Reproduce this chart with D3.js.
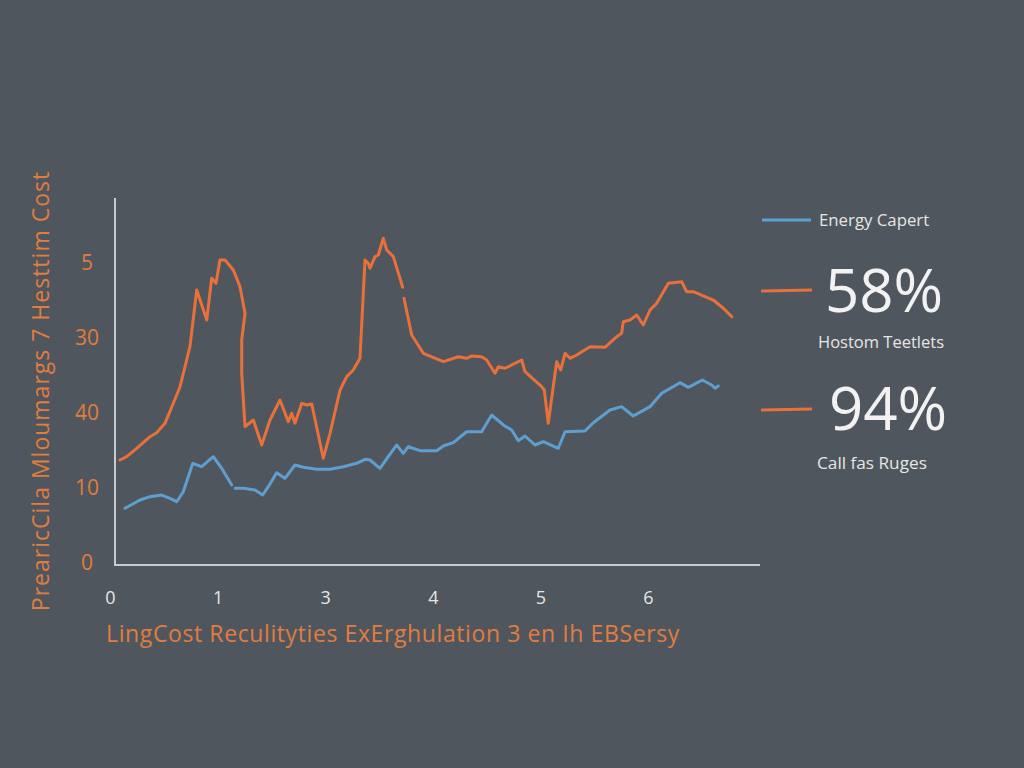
<!DOCTYPE html>
<html><head><meta charset="utf-8">
<script src="https://cdn.jsdelivr.net/npm/d3@7"></script>
<style>
html,body{margin:0;padding:0;background:#50565d;}
svg{display:block;}
text{font-family:"Open Sans","Noto Sans",sans-serif;}
</style></head>
<body><svg id="c" width="1024" height="768"></svg>
<script>
// ---- data ----
const xTickLabels = ["0","1","3","4","5","6"];
const yTickLabels = ["0","10","40","30","5"];
const yAxisTitle = "PrearicCila Mloumargs 7 Hesttim Cost";
const xAxisTitle = "LingCost Reculityties ExErghulation 3 en Ih EBSersy";
const legendLabels = ["Energy Capert","Hostom Teetlets","Call fas Ruges"];
const legendValues = ["58%","94%"];

// orange series [x, y]; null = gap
const orangeSeries = [
 [0.093,1.36],[0.155,1.404],[0.248,1.516],[0.372,1.671],[0.434,1.724],[0.511,1.849],
 [0.588,2.116],[0.651,2.337],[0.743,2.871],[0.806,3.627],[0.899,3.227],[0.945,3.783],
 [0.985,3.716],[1.022,4.027],[1.069,4.027],[1.146,3.893],[1.208,3.671],[1.255,3.316],
 [1.224,2.96],[1.224,2.516],[1.255,1.804],[1.332,1.893],[1.410,1.56],[1.487,1.893],
 [1.580,2.16],[1.657,1.871],[1.689,1.983],[1.719,1.849],[1.782,2.116],[1.828,2.093],
 [1.875,2.107],[1.982,1.383],[2.045,1.716],[2.138,2.293],[2.200,2.471],[2.261,2.56],
 [2.323,2.716],[2.370,4.027],[2.400,3.983],[2.416,3.916],[2.463,4.071],[2.494,4.093],
 [2.540,4.316],[2.572,4.16],[2.633,4.071],[2.720,3.663],null,
 [2.732,3.516],[2.804,3.027],[2.912,2.783],[3.098,2.671],[3.237,2.737],[3.315,2.716],
 [3.362,2.747],[3.454,2.737],[3.501,2.693],[3.578,2.516],[3.609,2.604],[3.671,2.583],
 [3.826,2.693],[3.857,2.537],[4.012,2.337],[4.036,2.293],[4.073,1.849],[4.151,2.671],
 [4.189,2.56],[4.229,2.783],[4.275,2.716],[4.337,2.76],[4.461,2.871],[4.600,2.863],
 [4.709,3.004],[4.755,3.049],[4.770,3.204],[4.833,3.227],[4.895,3.293],[4.956,3.16],
 [5.019,3.36],[5.081,3.449],[5.189,3.716],[5.313,3.737],[5.360,3.604],[5.421,3.604],
 [5.607,3.493],[5.700,3.383],[5.778,3.271]
];
// blue series [x, y]; null = gap
const blueSeries = [
 [0.139,0.716],[0.279,0.827],[0.372,0.871],[0.480,0.893],[0.558,0.849],[0.620,0.804],
 [0.681,0.937],[0.769,1.316],[0.852,1.271],[0.960,1.404],[1.038,1.249],[1.131,1.027],null,
 [1.162,0.983],[1.239,0.983],[1.348,0.96],[1.419,0.893],[1.471,1.004],[1.549,1.191],
 [1.626,1.116],[1.719,1.293],[1.796,1.263],[1.921,1.236],[2.045,1.236],[2.168,1.271],
 [2.293,1.316],[2.370,1.369],[2.416,1.36],[2.509,1.249],[2.586,1.404],[2.664,1.56],
 [2.726,1.449],[2.772,1.537],[2.881,1.484],[3.036,1.484],[3.098,1.547],[3.190,1.591],
 [3.315,1.737],[3.454,1.737],[3.547,1.96],[3.655,1.827],[3.733,1.76],[3.795,1.617],
 [3.857,1.68],[3.950,1.56],[4.027,1.604],[4.166,1.516],[4.229,1.737],[4.414,1.747],
 [4.492,1.857],[4.647,2.027],[4.755,2.071],[4.863,1.947],[5.019,2.071],[5.127,2.249],
 [5.297,2.391],[5.375,2.329],[5.505,2.427],[5.592,2.36],[5.623,2.316],[5.653,2.347]
];

// ---- layout ----
const ORANGE = "#e8703a", BLUE = "#5d9fd0", AXIS = "#c9cccf", TEXTC = "#e6e6e6", LABELO = "#e07d3f";
const svg = d3.select("#c");
svg.append("rect").attr("width",1024).attr("height",768).attr("fill","#50565d");

const x = d3.scaleLinear().domain([0,5]).range([110,648]);
const y = d3.scaleLinear().domain([0,4.85]).range([562,198.25]);

// axis lines
svg.append("line").attr("x1",115).attr("x2",115).attr("y1",198).attr("y2",565)
  .attr("stroke",AXIS).attr("stroke-width",2);
svg.append("line").attr("x1",114).attr("x2",760).attr("y1",565).attr("y2",565)
  .attr("stroke",AXIS).attr("stroke-width",2);

// y ticks
const yAxis = d3.axisLeft(y).tickValues(d3.range(yTickLabels.length))
  .tickFormat(i => yTickLabels[i]).tickSize(0);
const gy = svg.append("g").attr("transform","translate(87,0)").call(yAxis);
gy.select(".domain").remove();
gy.selectAll("text").attr("fill",LABELO).attr("font-size",21).attr("font-weight",500)
  .attr("text-anchor","middle").attr("x",0).attr("dy","0.35em");

// x ticks
const xAxis = d3.axisBottom(x).tickValues(d3.range(xTickLabels.length))
  .tickFormat(i => xTickLabels[i]).tickSize(0);
const gx = svg.append("g").attr("transform","translate(0,588)").call(xAxis);
gx.select(".domain").remove();
gx.selectAll("text").attr("fill",TEXTC).attr("font-size",18).attr("dy","0.7em");

// axis titles
svg.append("text").attr("transform","translate(49,391) rotate(-90)").attr("text-anchor","middle")
  .attr("fill",LABELO).attr("font-size",23).attr("font-weight",500).attr("letter-spacing",1)
  .text(yAxisTitle);
svg.append("text").attr("x",393).attr("y",642).attr("text-anchor","middle")
  .attr("fill",LABELO).attr("font-size",23).attr("font-weight",500).attr("letter-spacing",0.6)
  .text(xAxisTitle);

// lines
const line = d3.line().defined(d => d !== null).x(d => x(d[0])).y(d => y(d[1]));
svg.append("path").datum(orangeSeries).attr("d",line).attr("fill","none")
  .attr("stroke",ORANGE).attr("stroke-width",3).attr("stroke-linejoin","round").attr("stroke-linecap","round");
svg.append("path").datum(blueSeries).attr("d",line).attr("fill","none")
  .attr("stroke",BLUE).attr("stroke-width",3).attr("stroke-linejoin","round").attr("stroke-linecap","round");

// legend
const lg = svg.append("g");
lg.append("line").attr("x1",762).attr("x2",811).attr("y1",220).attr("y2",220).attr("stroke",BLUE).attr("stroke-width",3);
lg.append("text").attr("x",819).attr("y",226).attr("fill",TEXTC).attr("font-size",16.8).text(legendLabels[0]);
lg.append("line").attr("x1",761).attr("x2",812).attr("y1",291).attr("y2",290).attr("stroke",ORANGE).attr("stroke-width",3);
lg.append("text").attr("x",825).attr("y",312).attr("fill","#f2f2f2").attr("font-size",60).attr("font-weight",500).text(legendValues[0]);
lg.append("text").attr("x",818).attr("y",348).attr("fill",TEXTC).attr("font-size",16.5).text(legendLabels[1]);
lg.append("line").attr("x1",761).attr("x2",812).attr("y1",410).attr("y2",409).attr("stroke",ORANGE).attr("stroke-width",3);
lg.append("text").attr("x",829).attr("y",430).attr("fill","#f2f2f2").attr("font-size",60).attr("font-weight",500).text(legendValues[1]);
lg.append("text").attr("x",817).attr("y",469).attr("fill",TEXTC).attr("font-size",17.2).text(legendLabels[2]);
</script></body></html>
